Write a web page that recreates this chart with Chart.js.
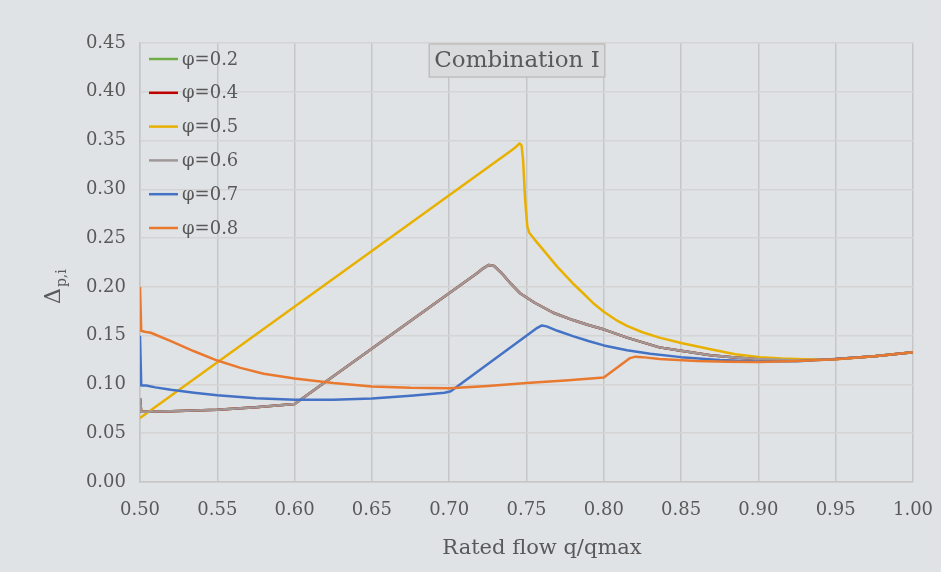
<!DOCTYPE html>
<html>
<head>
<meta charset="utf-8">
<script src="https://cdn.jsdelivr.net/npm/chart.js@4.4.0/dist/chart.umd.min.js"></script>
<style>
  html, body { margin: 0; padding: 0; background: #e0e3e6; }
  #wrap { width: 941px; height: 572px; }
</style>
</head>
<body>
<div id="wrap"><canvas id="chart" width="941" height="572"></canvas></div>
<script>
// rated flow q/qmax vs Δp,i, one x/y pair per φ
var xPhi02 = [0.5, 0.5008, 0.52, 0.55, 0.575, 0.6, 0.718, 0.722, 0.7255, 0.729, 0.734, 0.74, 0.7458, 0.755, 0.7673, 0.78, 0.79, 0.8008, 0.815, 0.836, 0.85, 0.869, 0.885, 0.9, 0.925, 0.95, 0.975, 1.0];
var yPhi02 = [0.086, 0.072, 0.0725, 0.074, 0.0765, 0.080, 0.214, 0.219, 0.2225, 0.2215, 0.214, 0.203, 0.1935, 0.184, 0.1735, 0.166, 0.161, 0.156, 0.148, 0.138, 0.1345, 0.130, 0.1275, 0.126, 0.1245, 0.126, 0.129, 0.133];

var xPhi04 = [0.5, 0.5008, 0.52, 0.55, 0.575, 0.6, 0.718, 0.722, 0.7255, 0.729, 0.734, 0.74, 0.7458, 0.755, 0.7673, 0.78, 0.79, 0.8008, 0.815, 0.836, 0.85, 0.869, 0.885, 0.9, 0.925, 0.95, 0.975, 1.0];
var yPhi04 = [0.086, 0.072, 0.0725, 0.074, 0.0765, 0.080, 0.214, 0.219, 0.2225, 0.2215, 0.214, 0.203, 0.1935, 0.184, 0.1735, 0.166, 0.161, 0.156, 0.148, 0.138, 0.1345, 0.130, 0.1275, 0.126, 0.1245, 0.126, 0.129, 0.133];

var xPhi05 = [0.5, 0.7404, 0.7435, 0.7455, 0.7468, 0.7478, 0.749, 0.7505, 0.7518, 0.755, 0.76, 0.765, 0.77, 0.775, 0.78, 0.786, 0.793, 0.8, 0.808, 0.815, 0.825, 0.836, 0.85, 0.869, 0.885, 0.901, 0.915, 0.93, 0.95, 0.975, 1.0];
var yPhi05 = [0.0656, 0.340, 0.344, 0.347, 0.345, 0.330, 0.292, 0.262, 0.2555, 0.249, 0.2395, 0.230, 0.2205, 0.212, 0.2035, 0.1945, 0.1835, 0.1745, 0.166, 0.160, 0.1535, 0.148, 0.1425, 0.136, 0.131, 0.128, 0.1265, 0.1258, 0.1258, 0.129, 0.133];

var xPhi06 = [0.5, 0.5008, 0.52, 0.55, 0.575, 0.6, 0.718, 0.722, 0.7255, 0.729, 0.734, 0.74, 0.7458, 0.755, 0.7673, 0.78, 0.79, 0.8008, 0.815, 0.836, 0.85, 0.869, 0.885, 0.9, 0.925, 0.95, 0.975, 1.0];
var yPhi06 = [0.086, 0.072, 0.0725, 0.074, 0.0765, 0.080, 0.214, 0.219, 0.2225, 0.2215, 0.214, 0.203, 0.1935, 0.184, 0.1735, 0.166, 0.161, 0.156, 0.148, 0.138, 0.1345, 0.130, 0.1275, 0.126, 0.1245, 0.126, 0.129, 0.133];

var xPhi07 = [0.5, 0.5008, 0.504, 0.51, 0.52, 0.535, 0.55, 0.575, 0.6, 0.625, 0.65, 0.675, 0.697, 0.701, 0.757, 0.76, 0.763, 0.77, 0.78, 0.79, 0.8, 0.815, 0.83, 0.85, 0.875, 0.9, 0.925, 0.95, 0.975, 1.0];
var yPhi07 = [0.150, 0.099, 0.099, 0.097, 0.0945, 0.0915, 0.089, 0.0858, 0.0842, 0.0842, 0.0855, 0.0885, 0.0915, 0.093, 0.158, 0.1605, 0.1595, 0.155, 0.1495, 0.1445, 0.140, 0.135, 0.1315, 0.128, 0.125, 0.1235, 0.1238, 0.126, 0.129, 0.133];

var xPhi08 = [0.5, 0.5008, 0.503, 0.507, 0.52, 0.535, 0.55, 0.565, 0.58, 0.6, 0.625, 0.65, 0.675, 0.7, 0.725, 0.75, 0.775, 0.8, 0.817, 0.8205, 0.825, 0.836, 0.86, 0.88, 0.9, 0.925, 0.95, 0.975, 1.0];
var yPhi08 = [0.200, 0.155, 0.154, 0.153, 0.1445, 0.134, 0.1245, 0.117, 0.111, 0.106, 0.1015, 0.098, 0.0965, 0.096, 0.0985, 0.1015, 0.104, 0.107, 0.127, 0.1285, 0.128, 0.126, 0.124, 0.1232, 0.123, 0.124, 0.1258, 0.129, 0.133];

var seriesLabels = ['φ=0.2', 'φ=0.4', 'φ=0.5', 'φ=0.6', 'φ=0.7', 'φ=0.8'];
var seriesColors = ['#70ad47', '#c00000', '#e8b000', '#a09898', '#4472c4', '#e8792f'];
var xTicks = [0.50, 0.55, 0.60, 0.65, 0.70, 0.75, 0.80, 0.85, 0.90, 0.95, 1.00];
var yTicks = [0.00, 0.05, 0.10, 0.15, 0.20, 0.25, 0.30, 0.35, 0.40, 0.45];

var chartTitle = 'Combination I';
var xTitle = 'Rated flow q/qmax';

var FONT = "'DejaVu Serif', 'Liberation Serif', serif";
var TEXT = '#595959';

function pts(xs, ys) {
    return xs.map(function (x, i) { return { x: x, y: ys[i] }; });
}

var allX = [xPhi02, xPhi04, xPhi05, xPhi06, xPhi07, xPhi08];
var allY = [yPhi02, yPhi04, yPhi05, yPhi06, yPhi07, yPhi08];

var datasets = seriesLabels.map(function (lbl, i) {
    return {
        label: lbl,
        data: pts(allX[i], allY[i]),
        borderColor: seriesColors[i],
        backgroundColor: seriesColors[i],
        borderWidth: 2.5,
        borderJoinStyle: 'round',
        pointRadius: 0,
        fill: false,
        tension: 0,
        order: 6 - i
    };
});

// background, title box, inside legend, axis titles
var decor = {
    id: 'decor',
    beforeDraw: function (chart) {
        var c = chart.ctx;
        c.save();
        c.fillStyle = '#e0e3e6';
        c.fillRect(0, 0, chart.width, chart.height);
        c.restore();
    },
    afterDraw: function (chart) {
        var c = chart.ctx;
        c.save();

        // title box
        c.font = '23px ' + FONT;
        var tw = c.measureText(chartTitle).width;
        var cx = 517, cy = 61;
        c.fillStyle = '#d9dbdd';
        c.strokeStyle = '#bfbfbf';
        c.lineWidth = 1.5;
        c.fillRect(cx - tw / 2 - 5, 44, tw + 10, 33);
        c.strokeRect(cx - tw / 2 - 5, 44, tw + 10, 33);
        c.fillStyle = TEXT;
        c.textAlign = 'center';
        c.textBaseline = 'middle';
        c.fillText(chartTitle, cx, cy);

        // x title
        c.font = '21px ' + FONT;
        c.fillText(xTitle, 542, 549);

        // legend
        c.textAlign = 'left';
        c.font = '18px ' + FONT;
        seriesLabels.forEach(function (lbl, i) {
            var y = 59 + i * 33.8;
            c.strokeStyle = seriesColors[i];
            c.lineWidth = 2.5;
            c.beginPath();
            c.moveTo(149, y);
            c.lineTo(178, y);
            c.stroke();
            c.fillStyle = TEXT;
            c.fillText(lbl, 182, y + 1);
        });

        // y axis title, rotated with subscript
        c.translate(60, 304);
        c.rotate(-Math.PI / 2);
        c.textBaseline = 'alphabetic';
        c.font = '22px ' + FONT;
        c.fillText('Δ', 0, 0);
        var dw = c.measureText('Δ').width;
        c.font = '14px ' + FONT;
        c.fillText('p,i', dw + 1, 6);

        c.restore();
    }
};

var ctx = document.getElementById('chart').getContext('2d');
var chart = new Chart(ctx, {
    type: 'line',
    data: { datasets: datasets },
    plugins: [decor],
    options: {
        responsive: false,
        animation: false,
        layout: { padding: { left: 0, right: 28, top: 43, bottom: 0 } },
        plugins: {
            legend: { display: false },
            tooltip: { enabled: false }
        },
        scales: {
            x: {
                type: 'linear',
                min: 0.5,
                max: 1.0,
                afterFit: function (s) {
                    s.height = 90;
                    s.paddingLeft = 0;
                    s.paddingRight = 0;
                },
                afterBuildTicks: function (s) { s.ticks = xTicks.map(function (v) { return { value: v }; }); },
                ticks: {
                    padding: 18,
                    color: TEXT,
                    font: { family: FONT, size: 18 },
                    maxRotation: 0,
                    callback: function (v) { return Number(v).toFixed(2); }
                },
                grid: { color: '#c6c6c6', lineWidth: 1.5, drawTicks: false },
                border: { color: '#c6c6c6', width: 1.5 }
            },
            y: {
                min: 0,
                max: 0.45,
                afterFit: function (s) {
                    s.width = 140;
                    s.paddingTop = 0;
                    s.paddingBottom = 0;
                },
                afterBuildTicks: function (s) { s.ticks = yTicks.map(function (v) { return { value: v }; }); },
                ticks: {
                    padding: 14,
                    color: TEXT,
                    font: { family: FONT, size: 18 },
                    callback: function (v) { return Number(v).toFixed(2); }
                },
                grid: { color: '#d4d4d4', lineWidth: 1.5, drawTicks: false },
                border: { color: '#c6c6c6', width: 1.5 }
            }
        }
    }
});
</script>
</body>
</html>
